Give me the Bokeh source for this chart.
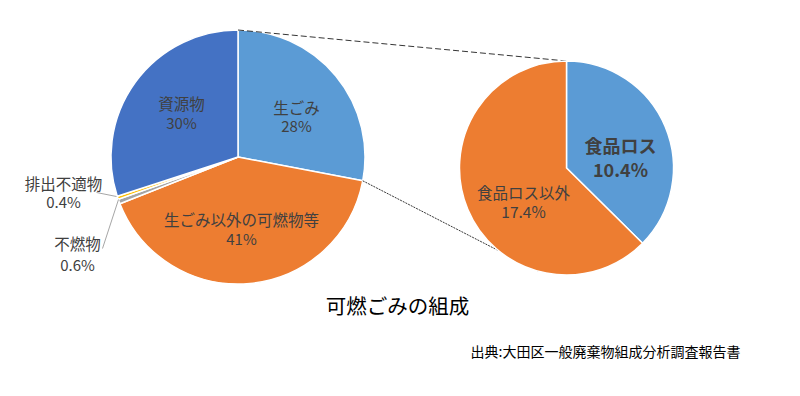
import math
from bokeh.plotting import figure
from bokeh.models import ColumnDataSource, Range1d
from bokeh.core.properties import value
from bokeh.embed import file_html
from bokeh.resources import INLINE

# ---- data ----
main_labels = ["生ごみ", "生ごみ以外の可燃物等", "不燃物", "排出不適物", "資源物"]
main_values = [28.0, 41.0, 0.6, 0.4, 30.0]
main_pct = ["28%", "41%", "0.6%", "0.4%", "30%"]
main_colors = ["#5B9BD5", "#ED7D31", "#A5A5A5", "#FFC000", "#4472C4"]

sub_labels = ["食品ロス", "食品ロス以外"]
sub_values = [10.4, 17.4]
sub_pct = ["10.4%", "17.4%"]
sub_colors = ["#5B9BD5", "#ED7D31"]

title_text = "可燃ごみの組成"
source_text = "出典:大田区一般廃棄物組成分析調査報告書"

W, H = 784, 380
FONT = "Noto Sans CJK JP"


def X(px):
    return px


def Y(py):
    return H - py


def wedges(vals):
    tot = sum(vals)
    starts, ends = [], []
    cum = 0.0
    for v in vals:
        a0 = math.pi / 2 - cum / tot * 2 * math.pi
        cum += v
        a1 = math.pi / 2 - cum / tot * 2 * math.pi
        starts.append(a1)
        ends.append(a0)
    return starts, ends


p = figure(width=W, height=H, output_backend="svg", toolbar_location=None,
           x_range=Range1d(0, W), y_range=Range1d(0, H), min_border=0)
p.axis.visible = False
p.grid.visible = False
p.outline_line_color = None
p.background_fill_color = "white"

# left pie
c1x, c1y, r1 = X(237.5), Y(156.5), 127.0
s, e = wedges(main_values)
src1 = ColumnDataSource(dict(start=s, end=e, color=main_colors))
p.wedge(x=c1x, y=c1y, radius=r1, start_angle="start", end_angle="end",
        fill_color="color", line_color="white", line_width=1.5, source=src1)

# right pie
c2x, c2y, r2 = X(566), Y(167.5), 107.0

# connectors
a_split = math.pi / 2 - main_values[0] / sum(main_values) * 2 * math.pi
p.line([c1x, c2x], [c1y + r1, c2y + r2], line_color="black", line_width=0.8,
       line_dash="6 3")
a_end = math.radians(-105)
p.line([c1x + r1 * math.cos(a_split), c2x + r2 * math.cos(a_end)],
       [c1y + r1 * math.sin(a_split), c2y + r2 * math.sin(a_end)],
       line_color="black", line_width=0.8, line_dash="2 1")

s2, e2 = wedges(sub_values)
src2 = ColumnDataSource(dict(start=s2, end=e2, color=sub_colors))
p.wedge(x=c2x, y=c2y, radius=r2, start_angle="start", end_angle="end",
        fill_color="color", line_color="white", line_width=1.5, source=src2)

# leader lines
p.line([X(96), X(116)], [Y(192), Y(196)], line_color="#A6A6A6", line_width=1)
p.line([X(102), X(118)], [Y(248), Y(199)], line_color="#A6A6A6", line_width=1)

# labels
txt_col = "#404040"
lab_pos = {
    "生ごみ": (296, 106, 125),
    "生ごみ以外の可燃物等": (241, 218, 238),
    "不燃物": (77, 242, 264),
    "排出不適物": (63, 182, 201),
    "資源物": (181, 102, 122),
}
for lab, pct in zip(main_labels, main_pct):
    x, y1, y2 = lab_pos[lab]
    p.text([X(x)], [Y(y1)], text=[lab], text_font=value(FONT), text_font_size="15.5px",
           text_color=txt_col, text_align="center", text_baseline="middle")
    p.text([X(x)], [Y(y2)], text=[pct], text_font=value(FONT), text_font_size="15px",
           text_color=txt_col, text_align="center", text_baseline="middle")

sub_pos = {"食品ロス": (620, 144, 168, "bold", "18px"),
           "食品ロス以外": (523, 191, 210, "normal", "15.5px")}
for lab, pct in zip(sub_labels, sub_pct):
    x, y1, y2, st, fs = sub_pos[lab]
    p.text([X(x)], [Y(y1)], text=[lab], text_font=value(FONT), text_font_size=fs,
           text_font_style=st, text_color=txt_col, text_align="center", text_baseline="middle")
    p.text([X(x)], [Y(y2)], text=[pct], text_font=value(FONT), text_font_size=fs,
           text_font_style=st, text_color=txt_col, text_align="center", text_baseline="middle")

p.text([X(397)], [Y(304)], text=[title_text], text_font=value(FONT), text_font_size="20.5px",
       text_color="black", text_align="center", text_baseline="middle")
p.text([X(740)], [Y(350)], text=[source_text], text_font=value(FONT), text_font_size="14px",
       text_color="black", text_align="right", text_baseline="middle")

open("out.html", "w").write(file_html(p, INLINE))
